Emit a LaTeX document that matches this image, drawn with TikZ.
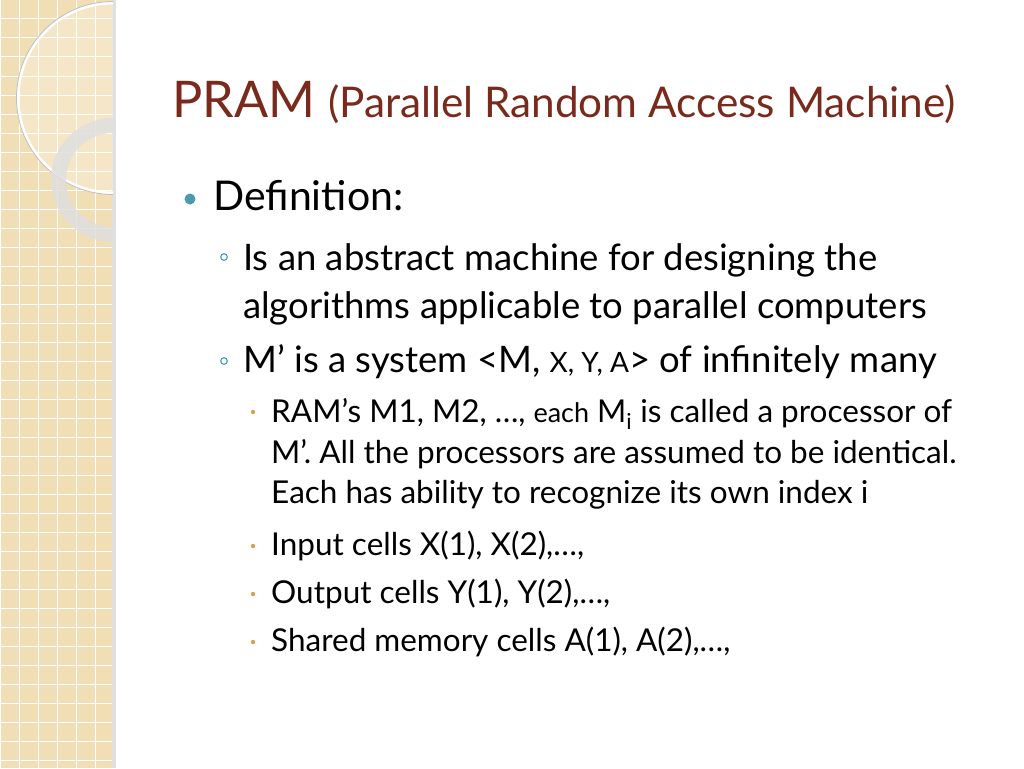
\documentclass[tikz,border=0pt]{standalone}
\usepackage{fontspec}
\setmainfont{Lato}
\definecolor{beige}{HTML}{F1DEB4}
\definecolor{ttl}{HTML}{7A2A1C}
\definecolor{bul}{HTML}{4A9BB0}
\definecolor{bul3}{HTML}{D9A24A}
\begin{document}
\begin{tikzpicture}[x=1pt,y=-1pt,
 t/.style={anchor=base west,inner sep=0pt,text=black},
 l1/.style={t,font=\fontsize{41}{48}\selectfont},
 l2/.style={t,font=\fontsize{36.5}{42}\selectfont},
 l3/.style={t,font=\fontsize{31.5}{36}\selectfont},
 ring/.style={draw=bul,line width=1.1}]
\useasboundingbox (0,0) rectangle (1024,768);
\fill[white] (0,0) rectangle (1024,768);
\fill[beige] (0,0) rectangle (113,768);
\foreach \x in {0,19,...,113} \draw[white,line width=1] (\x,0) -- (\x,768);
\foreach \y in {0,19,...,768} \draw[white,line width=1] (0,\y) -- (113,\y);
\fill[black!12] (112,0) rectangle (116,768);
\begin{scope}
\clip (0,0) rectangle (113,768);
\fill[white,opacity=0.25] (113,98) circle (95);
\draw[white,line width=3] (113,98) circle (95);
\draw[black!25,line width=0.8] (113,98) circle (96.5);
\fill[even odd rule,gray!25,opacity=0.85] (113,180) circle (62) (113,180) circle (47);
\end{scope}
\node[t,text=ttl,font=\fontsize{50.5}{58}\selectfont] (title) at (172,117) {PRAM \fontsize{42.3}{50}\selectfont(Parallel Random Access Machine)};
\fill[bul] (190,199) circle (5.5);
\node[l1] (d) at (213,210) {Definition:};
\draw[ring] (224,257) circle (3.3) coordinate (b1);
\node[l2] (a1) at (243,270) {Is an abstract machine for designing the};
\node[l2] (a2) at (243,318) {algorithms applicable to parallel computers};
\draw[ring] (224,361) circle (3.3) coordinate (b2);
\node[l2] (m1) at (243,372) {M’ is a system <M, {\fontsize{28}{32}\selectfont X, Y, A}> of infinitely many};
\foreach \y/\n in {412/c1,546/c2,594/c3,642/c4} \fill[bul3] (253,\y) circle (2.2) coordinate (\n);
\node[l3] (r1) at (271,422) {RAM’s M1, M2, …, {\fontsize{27}{30}\selectfont each} M$_{\mathrm{i}}$ is called a processor of};
\node[l3] (r2) at (271,463) {M’. All the processors are assumed to be identical.};
\node[l3] (r3) at (271,503) {Each has ability to recognize its own index i};
\node[l3] (r4) at (271,555) {Input cells X(1), X(2),…,};
\node[l3] (r5) at (271,603) {Output cells Y(1), Y(2),…,};
\node[l3] (r6) at (271,651) {Shared memory cells A(1), A(2),…,};
\end{tikzpicture}
\end{document}
